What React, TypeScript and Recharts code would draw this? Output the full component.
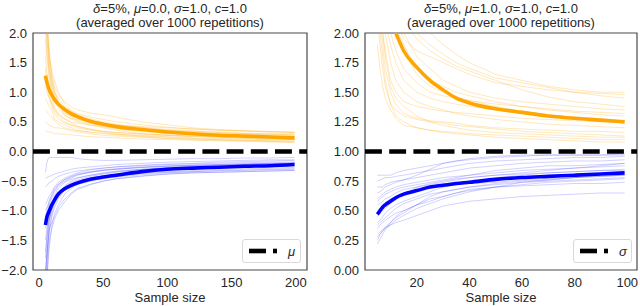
import { LineChart, Line, XAxis, YAxis, ReferenceLine, ReferenceArea, Legend, Label } from "recharts";

// left panel: mu = 0.0, sample sizes 5..199
const leftSizes = [5, 6, 7, 8, 10, 12, 15, 20, 25, 30, 40, 50, 60, 80, 100, 120, 140, 160, 180, 199];
const leftUpperMean = [1.28, 1.18, 1.1, 1.04, 0.95, 0.88, 0.8, 0.71, 0.64, 0.59, 0.51, 0.46, 0.42, 0.37, 0.33, 0.3, 0.275, 0.26, 0.245, 0.23];
const leftLowerMean = [-1.24, -1.12, -1.05, -1.0, -0.9, -0.82, -0.72, -0.63, -0.57, -0.53, -0.47, -0.43, -0.4, -0.34, -0.3, -0.28, -0.265, -0.25, -0.24, -0.22];
const leftUpperRuns = [
  [2.6, 2.1, 1.8, 1.5, 1.2, 1.0, 0.85, 0.7, 0.6, 0.55, 0.48, 0.42, 0.38, 0.33, 0.3, 0.28, 0.26, 0.25, 0.24, 0.23],
  [1.9, 1.6, 1.4, 1.2, 1.0, 0.9, 0.8, 0.62, 0.55, 0.5, 0.45, 0.4, 0.36, 0.3, 0.27, 0.25, 0.24, 0.22, 0.21, 0.2],
  [1.4, 1.2, 1.1, 0.95, 0.8, 0.7, 0.6, 0.5, 0.45, 0.42, 0.38, 0.33, 0.3, 0.26, 0.24, 0.22, 0.2, 0.19, 0.18, 0.17],
  [3.0, 2.4, 2.0, 1.7, 1.3, 1.1, 0.95, 0.85, 0.75, 0.7, 0.65, 0.62, 0.58, 0.5, 0.45, 0.4, 0.37, 0.35, 0.33, 0.32],
  [0.9, 0.85, 0.8, 0.75, 0.7, 0.55, 0.5, 0.45, 0.4, 0.36, 0.32, 0.3, 0.28, 0.25, 0.22, 0.2, 0.19, 0.18, 0.17, 0.16],
  [2.2, 1.9, 1.7, 1.4, 1.15, 1.0, 0.9, 0.75, 0.68, 0.62, 0.55, 0.5, 0.46, 0.4, 0.36, 0.34, 0.32, 0.3, 0.29, 0.28],
  [0.5, 0.48, 0.46, 0.45, 0.42, 0.4, 0.4, 0.38, 0.35, 0.33, 0.3, 0.27, 0.26, 0.24, 0.22, 0.21, 0.2, 0.19, 0.18, 0.18],
  [1.6, 1.35, 1.2, 1.05, 0.9, 0.75, 0.65, 0.55, 0.5, 0.48, 0.44, 0.42, 0.4, 0.38, 0.35, 0.33, 0.31, 0.3, 0.29, 0.28],
  [2.8, 2.3, 1.95, 1.6, 1.25, 1.05, 0.8, 0.66, 0.58, 0.52, 0.47, 0.44, 0.42, 0.37, 0.34, 0.31, 0.3, 0.28, 0.27, 0.26],
  [1.1, 1.0, 0.95, 0.9, 0.82, 0.72, 0.62, 0.55, 0.48, 0.43, 0.37, 0.34, 0.32, 0.29, 0.27, 0.26, 0.25, 0.24, 0.23, 0.22],
  [2.4, 2.0, 1.6, 1.3, 1.05, 0.9, 0.72, 0.6, 0.56, 0.54, 0.5, 0.46, 0.44, 0.42, 0.4, 0.38, 0.36, 0.35, 0.34, 0.33],
  [0.7, 0.68, 0.65, 0.62, 0.58, 0.52, 0.46, 0.4, 0.37, 0.35, 0.33, 0.31, 0.29, 0.27, 0.25, 0.23, 0.22, 0.21, 0.2, 0.2],
  [2.0, 1.7, 1.5, 1.35, 1.1, 0.95, 0.78, 0.64, 0.6, 0.58, 0.52, 0.48, 0.45, 0.41, 0.37, 0.35, 0.33, 0.31, 0.3, 0.3],
  [1.2, 1.1, 1.0, 0.9, 0.75, 0.65, 0.55, 0.48, 0.44, 0.4, 0.36, 0.34, 0.32, 0.3, 0.28, 0.26, 0.24, 0.23, 0.22, 0.21],
  [2.5, 2.2, 1.9, 1.6, 1.35, 1.2, 1.0, 0.8, 0.7, 0.64, 0.58, 0.54, 0.5, 0.45, 0.41, 0.38, 0.36, 0.34, 0.33, 0.32],
  [0.35, 0.34, 0.33, 0.33, 0.32, 0.3, 0.3, 0.29, 0.28, 0.27, 0.25, 0.24, 0.23, 0.21, 0.2, 0.19, 0.18, 0.17, 0.16, 0.15],
];
const leftLowerRuns = [
  [-2.5, -2.0, -1.6, -1.35, -1.1, -0.95, -0.8, -0.65, -0.58, -0.52, -0.46, -0.42, -0.38, -0.33, -0.3, -0.28, -0.26, -0.25, -0.24, -0.23],
  [-1.8, -1.5, -1.3, -1.15, -1.0, -0.85, -0.7, -0.6, -0.52, -0.48, -0.42, -0.38, -0.35, -0.31, -0.28, -0.26, -0.25, -0.23, -0.22, -0.21],
  [-1.3, -1.15, -1.0, -0.9, -0.78, -0.68, -0.58, -0.5, -0.45, -0.4, -0.35, -0.32, -0.3, -0.27, -0.25, -0.23, -0.22, -0.21, -0.2, -0.19],
  [-2.2, -1.8, -1.5, -1.3, -1.2, -1.1, -0.95, -0.8, -0.7, -0.62, -0.55, -0.5, -0.46, -0.42, -0.38, -0.36, -0.35, -0.34, -0.33, -0.32],
  [-0.9, -0.85, -0.8, -0.75, -0.68, -0.6, -0.52, -0.45, -0.4, -0.36, -0.31, -0.28, -0.26, -0.23, -0.21, -0.2, -0.18, -0.17, -0.16, -0.15],
  [-0.35, -0.2, -0.12, -0.1, -0.1, -0.1, -0.1, -0.1, -0.1, -0.12, -0.14, -0.15, -0.15, -0.14, -0.13, -0.12, -0.12, -0.11, -0.11, -0.1],
  [-1.5, -1.3, -1.2, -1.1, -0.95, -0.82, -0.72, -0.62, -0.55, -0.5, -0.45, -0.41, -0.39, -0.36, -0.34, -0.32, -0.3, -0.29, -0.28, -0.27],
  [-2.0, -1.7, -1.4, -1.2, -0.9, -0.75, -0.62, -0.52, -0.47, -0.44, -0.4, -0.37, -0.34, -0.3, -0.27, -0.25, -0.24, -0.22, -0.21, -0.2],
  [-1.1, -1.0, -0.92, -0.85, -0.75, -0.66, -0.56, -0.48, -0.42, -0.38, -0.34, -0.31, -0.29, -0.26, -0.24, -0.23, -0.22, -0.21, -0.2, -0.2],
  [-2.8, -2.2, -1.8, -1.5, -1.25, -1.05, -0.9, -0.72, -0.62, -0.55, -0.48, -0.44, -0.41, -0.37, -0.35, -0.34, -0.33, -0.32, -0.31, -0.3],
  [-0.6, -0.58, -0.55, -0.52, -0.5, -0.46, -0.42, -0.38, -0.35, -0.33, -0.3, -0.28, -0.26, -0.24, -0.22, -0.21, -0.2, -0.19, -0.18, -0.18],
  [-1.7, -1.45, -1.25, -1.1, -0.92, -0.8, -0.7, -0.58, -0.5, -0.45, -0.4, -0.36, -0.33, -0.3, -0.28, -0.27, -0.26, -0.25, -0.24, -0.24],
  [-2.1, -1.8, -1.55, -1.3, -1.05, -0.9, -0.76, -0.64, -0.6, -0.56, -0.5, -0.46, -0.43, -0.39, -0.36, -0.34, -0.32, -0.31, -0.3, -0.29],
  [-1.0, -0.95, -0.9, -0.82, -0.72, -0.62, -0.55, -0.47, -0.43, -0.39, -0.35, -0.32, -0.3, -0.27, -0.25, -0.24, -0.23, -0.22, -0.21, -0.2],
  [-2.6, -2.2, -1.9, -1.6, -1.3, -1.15, -1.0, -0.85, -0.72, -0.64, -0.56, -0.5, -0.46, -0.41, -0.38, -0.36, -0.35, -0.34, -0.33, -0.32],
  [-0.45, -0.44, -0.43, -0.42, -0.4, -0.38, -0.36, -0.33, -0.3, -0.28, -0.26, -0.24, -0.22, -0.2, -0.18, -0.17, -0.16, -0.15, -0.14, -0.14],
];

// right panel: mu = 1.0, sample sizes 5..99
const rightSizes = [5, 6, 7, 8, 10, 12, 15, 20, 25, 30, 35, 40, 50, 60, 70, 80, 90, 99];
const rightUpperMean = [2.9, 2.65, 2.45, 2.3, 2.1, 2.0, 1.85, 1.71, 1.6, 1.52, 1.45, 1.41, 1.36, 1.33, 1.3, 1.28, 1.265, 1.25];
const rightLowerMean = [0.47, 0.5, 0.53, 0.55, 0.58, 0.61, 0.64, 0.67, 0.7, 0.715, 0.73, 0.74, 0.765, 0.78, 0.79, 0.8, 0.81, 0.82];
const rightUpperRuns = [
  [3.2, 3.0, 2.8, 2.6, 2.3, 2.1, 1.95, 1.85, 1.8, 1.75, 1.7, 1.65, 1.58, 1.55, 1.52, 1.5, 1.49, 1.48],
  [2.5, 2.2, 2.0, 1.8, 1.55, 1.45, 1.38, 1.3, 1.25, 1.22, 1.2, 1.18, 1.16, 1.15, 1.14, 1.13, 1.12, 1.12],
  [3.5, 3.2, 2.9, 2.7, 2.4, 2.2, 2.0, 1.8, 1.7, 1.6, 1.55, 1.5, 1.45, 1.42, 1.4, 1.38, 1.36, 1.35],
  [2.2, 2.0, 1.8, 1.6, 1.4, 1.3, 1.25, 1.2, 1.18, 1.16, 1.15, 1.14, 1.12, 1.11, 1.1, 1.09, 1.08, 1.08],
  [3.0, 2.8, 2.6, 2.4, 2.2, 2.05, 1.9, 1.7, 1.6, 1.55, 1.5, 1.47, 1.42, 1.38, 1.35, 1.33, 1.31, 1.3],
  [2.8, 2.5, 2.3, 2.1, 1.9, 1.75, 1.6, 1.5, 1.45, 1.42, 1.4, 1.38, 1.35, 1.32, 1.3, 1.28, 1.27, 1.26],
  [4.0, 3.6, 3.2, 3.0, 2.7, 2.5, 2.3, 2.1, 2.0, 1.9, 1.82, 1.75, 1.65, 1.6, 1.55, 1.52, 1.5, 1.5],
  [2.4, 2.1, 1.9, 1.7, 1.5, 1.4, 1.32, 1.28, 1.26, 1.25, 1.24, 1.22, 1.2, 1.19, 1.18, 1.17, 1.17, 1.16],
  [3.3, 3.0, 2.7, 2.5, 2.2, 2.0, 1.85, 1.65, 1.55, 1.5, 1.46, 1.43, 1.38, 1.34, 1.31, 1.29, 1.27, 1.26],
  [2.7, 2.4, 2.2, 2.0, 1.75, 1.6, 1.5, 1.42, 1.38, 1.35, 1.32, 1.3, 1.27, 1.25, 1.23, 1.22, 1.21, 1.2],
  [3.8, 3.4, 3.1, 2.8, 2.5, 2.3, 2.1, 1.95, 1.85, 1.78, 1.72, 1.68, 1.6, 1.52, 1.46, 1.42, 1.4, 1.38],
  [2.1, 1.9, 1.7, 1.55, 1.4, 1.35, 1.3, 1.27, 1.25, 1.24, 1.22, 1.21, 1.19, 1.17, 1.16, 1.15, 1.14, 1.13],
  [2.3, 2.2, 2.0, 1.85, 1.6, 1.5, 1.42, 1.38, 1.36, 1.34, 1.33, 1.32, 1.3, 1.28, 1.27, 1.26, 1.25, 1.25],
  [3.6, 3.3, 3.0, 2.8, 2.6, 2.4, 2.2, 2.0, 1.9, 1.82, 1.75, 1.7, 1.62, 1.58, 1.54, 1.5, 1.47, 1.45],
  [1.9, 1.7, 1.55, 1.45, 1.35, 1.28, 1.22, 1.2, 1.18, 1.17, 1.16, 1.15, 1.14, 1.13, 1.12, 1.11, 1.1, 1.1],
  [2.9, 2.6, 2.4, 2.2, 2.0, 1.85, 1.7, 1.58, 1.5, 1.47, 1.45, 1.43, 1.4, 1.38, 1.36, 1.34, 1.33, 1.32],
];
const rightLowerRuns = [
  [0.25, 0.3, 0.33, 0.36, 0.4, 0.44, 0.48, 0.55, 0.6, 0.62, 0.65, 0.67, 0.7, 0.72, 0.74, 0.75, 0.76, 0.77],
  [0.5, 0.52, 0.55, 0.57, 0.6, 0.62, 0.65, 0.68, 0.7, 0.72, 0.73, 0.75, 0.78, 0.8, 0.82, 0.83, 0.84, 0.85],
  [0.8, 0.8, 0.8, 0.8, 0.8, 0.82, 0.84, 0.86, 0.88, 0.9, 0.92, 0.93, 0.95, 0.96, 0.97, 0.97, 0.97, 0.97],
  [0.35, 0.38, 0.4, 0.42, 0.45, 0.48, 0.5, 0.55, 0.62, 0.66, 0.68, 0.7, 0.73, 0.75, 0.76, 0.78, 0.79, 0.8],
  [0.6, 0.62, 0.64, 0.66, 0.68, 0.7, 0.72, 0.74, 0.76, 0.78, 0.79, 0.8, 0.82, 0.84, 0.85, 0.86, 0.87, 0.88],
  [0.3, 0.32, 0.34, 0.36, 0.38, 0.4, 0.42, 0.46, 0.5, 0.54, 0.56, 0.58, 0.6, 0.62, 0.63, 0.64, 0.65, 0.65],
  [0.45, 0.48, 0.5, 0.52, 0.56, 0.6, 0.64, 0.7, 0.73, 0.75, 0.77, 0.78, 0.8, 0.81, 0.82, 0.83, 0.84, 0.84],
  [0.7, 0.7, 0.7, 0.72, 0.74, 0.75, 0.76, 0.78, 0.8, 0.82, 0.84, 0.86, 0.88, 0.9, 0.91, 0.92, 0.92, 0.93],
  [0.22, 0.26, 0.3, 0.34, 0.4, 0.45, 0.5, 0.55, 0.58, 0.62, 0.65, 0.68, 0.7, 0.71, 0.72, 0.73, 0.73, 0.74],
  [0.55, 0.56, 0.58, 0.6, 0.62, 0.65, 0.68, 0.7, 0.72, 0.74, 0.76, 0.78, 0.8, 0.82, 0.84, 0.86, 0.88, 0.9],
  [0.4, 0.42, 0.45, 0.48, 0.52, 0.55, 0.58, 0.62, 0.66, 0.7, 0.72, 0.73, 0.74, 0.76, 0.77, 0.78, 0.79, 0.8],
  [0.65, 0.66, 0.68, 0.7, 0.72, 0.74, 0.76, 0.8, 0.85, 0.9, 0.92, 0.94, 0.96, 0.97, 0.97, 0.97, 0.97, 0.98],
  [0.28, 0.3, 0.33, 0.35, 0.38, 0.42, 0.46, 0.52, 0.56, 0.6, 0.63, 0.66, 0.7, 0.74, 0.76, 0.78, 0.8, 0.82],
  [0.75, 0.76, 0.77, 0.78, 0.78, 0.79, 0.8, 0.82, 0.84, 0.86, 0.88, 0.9, 0.92, 0.93, 0.94, 0.95, 0.95, 0.96],
  [0.38, 0.4, 0.42, 0.44, 0.48, 0.52, 0.56, 0.6, 0.64, 0.66, 0.68, 0.7, 0.72, 0.74, 0.75, 0.76, 0.77, 0.78],
  [0.58, 0.6, 0.62, 0.64, 0.66, 0.68, 0.7, 0.72, 0.74, 0.76, 0.78, 0.8, 0.84, 0.86, 0.88, 0.88, 0.89, 0.9],
];

const leftXTicks = [0, 50, 100, 150, 200];
const leftYTicks = [-2, -1.5, -1, -0.5, 0, 0.5, 1, 1.5, 2];
const rightXTicks = [20, 40, 60, 80, 100];
const rightYTicks = [0, 0.25, 0.5, 0.75, 1, 1.25, 1.5, 1.75, 2];

const FONT = "'Liberation Sans', Arial, sans-serif";
const TEXT = "#262626";
const ORANGE = "#FFA500";
const BLUE = "#0000FF";

function buildRows(sizes: number[], upperMean: number[], lowerMean: number[], upperRuns: number[][], lowerRuns: number[][]) {
  return sizes.map((n, i) => {
    const row: Record<string, number> = { n, upper: upperMean[i], lower: lowerMean[i] };
    upperRuns.forEach((run, k) => (row[`u${k}`] = run[i]));
    lowerRuns.forEach((run, k) => (row[`l${k}`] = run[i]));
    return row;
  });
}

const minus = (s: string) => s.replace("-", "\u2212");

function LegendBox({ symbol }: { symbol: string }) {
  return (
    <div
      style={{
        width: 57,
        height: 22,
        border: "1px solid #d9d9d9",
        borderRadius: 3,
        background: "rgba(255,255,255,0.85)",
        position: "relative",
        fontFamily: FONT,
      }}
    >
      <svg width={57} height={22} style={{ position: "absolute", left: 0, top: 0 }}>
        <line x1={6} x2={23} y1={11} y2={11} stroke="#000" strokeWidth={4.6} />
        <line x1={30} x2={34} y1={11} y2={11} stroke="#000" strokeWidth={4.6} />
        <text x={45} y={15.5} fontSize={13} fontStyle="italic" fill={TEXT} fontFamily={FONT}>
          {symbol}
        </text>
      </svg>
    </div>
  );
}

interface PanelProps {
  rows: Record<string, number>[];
  runCount: number;
  xDomain: [number, number];
  xTicks: number[];
  yDomain: [number, number];
  yTicks: number[];
  digits: number;
  refY: number;
  symbol: string;
  yAxisWidth: number;
  rightMargin: number;
  legendLeft: number;
}

function Panel(p: PanelProps) {
  const tick = { fontSize: 13, fill: TEXT, fontFamily: FONT };
  const runs = Array.from({ length: p.runCount }, (_, k) => k);
  return (
    <LineChart width={320} height={306} data={p.rows} margin={{ top: 33, right: p.rightMargin, bottom: 0, left: 0 }}>
      <XAxis
        dataKey="n"
        type="number"
        domain={p.xDomain}
        ticks={p.xTicks}
        allowDataOverflow
        axisLine={false}
        tickLine={false}
        tickSize={0}
        tickMargin={8}
        height={36}
        tick={tick}
      >
        <Label value="Sample size" position="insideBottom" offset={4} style={{ fontSize: 13, fill: TEXT, fontFamily: FONT }} />
      </XAxis>
      <YAxis
        type="number"
        domain={p.yDomain}
        ticks={p.yTicks}
        allowDataOverflow
        axisLine={false}
        tickLine={false}
        tickSize={0}
        tickMargin={6}
        width={p.yAxisWidth}
        tick={tick}
        tickFormatter={(v: number) => minus(v.toFixed(p.digits))}
      />
      {runs.map((k) => (
        <Line key={`u${k}`} dataKey={`u${k}`} stroke={ORANGE} strokeOpacity={0.26} strokeWidth={1} dot={false} activeDot={false} isAnimationActive={false} legendType="none" />
      ))}
      {runs.map((k) => (
        <Line key={`l${k}`} dataKey={`l${k}`} stroke={BLUE} strokeOpacity={0.18} strokeWidth={1} dot={false} activeDot={false} isAnimationActive={false} legendType="none" />
      ))}
      <Line dataKey="upper" type="monotone" stroke={ORANGE} strokeWidth={3.6} dot={false} activeDot={false} isAnimationActive={false} legendType="none" />
      <Line dataKey="lower" type="monotone" stroke={BLUE} strokeWidth={3.6} dot={false} activeDot={false} isAnimationActive={false} legendType="none" />
      <ReferenceLine y={p.refY} stroke="#000" strokeWidth={4.6} strokeDasharray="16.9 7.3" ifOverflow="visible" />
      <ReferenceArea
        x1={p.xDomain[0]}
        x2={p.xDomain[1]}
        y1={p.yDomain[0]}
        y2={p.yDomain[1]}
        fill="none"
        stroke="#4a4a4a"
        strokeWidth={1.2}
        ifOverflow="visible"
      />
      <Legend
        layout="vertical"
        align="center"
        verticalAlign="middle"
        wrapperStyle={{ left: p.legendLeft, top: 239, width: 59, height: 24 }}
        content={() => <LegendBox symbol={p.symbol} />}
      />
    </LineChart>
  );
}

function Title({ cx, mu }: { cx: number; mu: string }) {
  return (
    <>
      <text x={cx} y={12.5} textAnchor="middle" fontSize={13} fill={TEXT} fontFamily={FONT}>
        <tspan fontStyle="italic">δ</tspan>
        <tspan>=5%, </tspan>
        <tspan fontStyle="italic">μ</tspan>
        <tspan>={mu}, </tspan>
        <tspan fontStyle="italic">σ</tspan>
        <tspan>=1.0, </tspan>
        <tspan fontStyle="italic">c</tspan>
        <tspan>=1.0</tspan>
      </text>
      <text x={cx} y={26.5} textAnchor="middle" fontSize={13} fill={TEXT} fontFamily={FONT}>
        (averaged over 1000 repetitions)
      </text>
    </>
  );
}

export default function App() {
  const leftRows = buildRows(leftSizes, leftUpperMean, leftLowerMean, leftUpperRuns, leftLowerRuns);
  const rightRows = buildRows(rightSizes, rightUpperMean, rightLowerMean, rightUpperRuns, rightLowerRuns);
  return (
    <div style={{ position: "absolute", left: 0, top: 0, width: 640, height: 306, background: "#fff", fontFamily: FONT }}>
      <div style={{ position: "absolute", left: 0, top: 0 }}>
        <Panel
          rows={leftRows}
          runCount={leftUpperRuns.length}
          xDomain={[-4.7, 208.7]}
          xTicks={leftXTicks}
          yDomain={[-2, 2]}
          yTicks={leftYTicks}
          digits={1}
          refY={0}
          symbol="μ"
          yAxisWidth={33}
          rightMargin={13}
          legendLeft={242}
        />
      </div>
      <div style={{ position: "absolute", left: 320, top: 0 }}>
        <Panel
          rows={rightRows}
          runCount={rightUpperRuns.length}
          xDomain={[0.3, 103.7]}
          xTicks={rightXTicks}
          yDomain={[0, 2]}
          yTicks={rightYTicks}
          digits={2}
          refY={1}
          symbol="σ"
          yAxisWidth={45}
          rightMargin={3}
          legendLeft={253}
        />
      </div>
      <svg width={640} height={32} style={{ position: "absolute", left: 0, top: 0, pointerEvents: "none" }}>
        <Title cx={170} mu="0.0" />
        <Title cx={501} mu="1.0" />
      </svg>
    </div>
  );
}
